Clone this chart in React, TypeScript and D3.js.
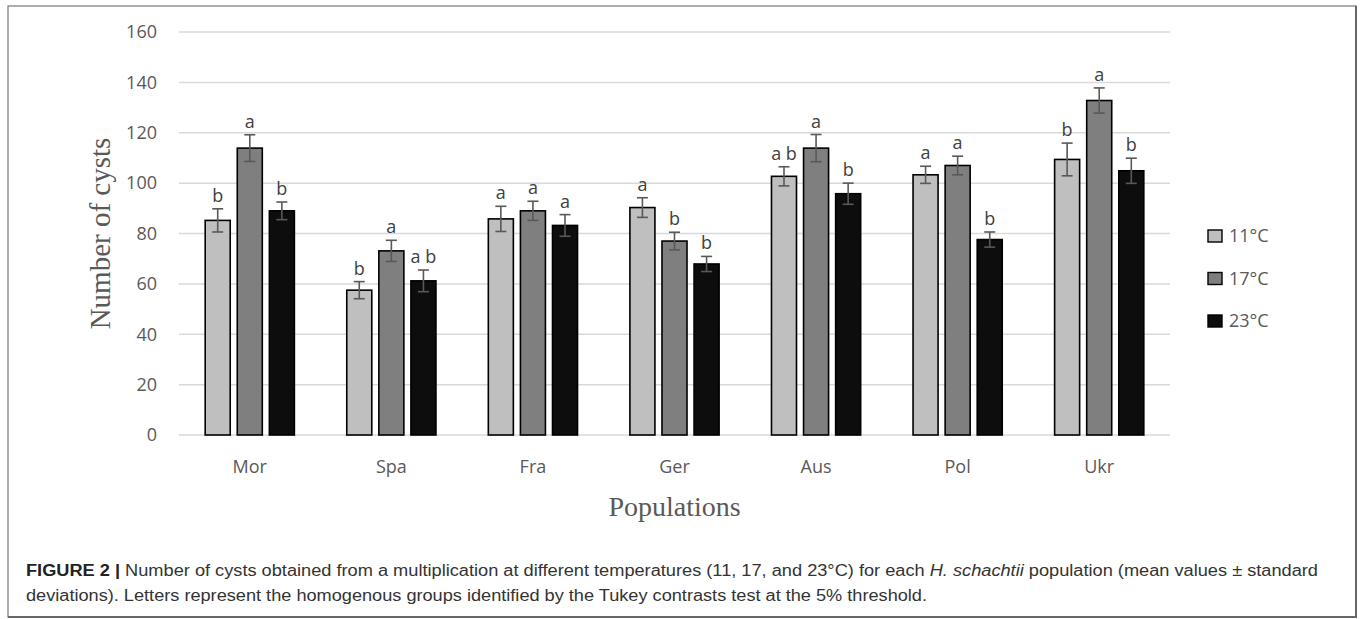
import React from 'react';
import * as d3 from 'd3';

const populations = ['Mor', 'Spa', 'Fra', 'Ger', 'Aus', 'Pol', 'Ukr'];
const seriesNames = ['11°C', '17°C', '23°C'];

const mean11 = [85.2, 57.5, 85.8, 90.3, 102.7, 103.3, 109.4];
const sd11 = [4.6, 3.4, 5.0, 3.9, 3.8, 3.4, 6.5];
const letters11 = ['b', 'b', 'a', 'a', 'a b', 'a', 'b'];

const mean17 = [113.9, 73.1, 89.0, 77.0, 113.9, 107.0, 132.8];
const sd17 = [5.3, 4.2, 3.8, 3.5, 5.4, 3.7, 5.0];
const letters17 = ['a', 'a', 'a', 'b', 'a', 'a', 'a'];

const mean23 = [89.0, 61.2, 83.2, 67.9, 95.8, 77.6, 104.9];
const sd23 = [3.5, 4.3, 4.3, 3.0, 4.2, 3.0, 5.0];
const letters23 = ['b', 'a b', 'a', 'b', 'b', 'b', 'b'];

const yTicks = [0, 20, 40, 60, 80, 100, 120, 140, 160];
const fills = ['#bfbfbf', '#7f7f7f', '#0d0d0d'];

const W = 1362;
const H = 619;
const plot = { left: 179, right: 1170, top: 32, bottom: 435 };
const sans = '"Open Sans", "Noto Sans", sans-serif';
const serif = '"Liberation Serif", "DejaVu Serif", serif';
const textGray = '#595959';

const App: React.FC = () => {
  const means = [mean11, mean17, mean23];
  const sds = [sd11, sd17, sd23];
  const letters = [letters11, letters17, letters23];

  const y = d3.scaleLinear().domain([0, 160]).range([plot.bottom, plot.top]);
  const x0 = d3.scaleBand<string>().domain(populations).range([plot.left, plot.right]).padding(0);
  const bw0 = x0.bandwidth();
  const x1 = d3.scaleBand<string>().domain(seriesNames)
    .range([bw0 * 0.185, bw0 * 0.815]).paddingInner(0.22);
  const bw = x1.bandwidth();

  return (
    <svg width={W} height={H} style={{ position: 'absolute', left: 0, top: 0, background: '#fff' }}>
      {/* frame */}
      <rect x={8} y={6} width={1348} height={611} fill="none" stroke="#777" strokeWidth={1.2} />
      <line x1={1356} x2={1356} y1={6} y2={618} stroke="#666" strokeWidth={2} />
      <line x1={8} x2={1357} y1={617} y2={617} stroke="#666" strokeWidth={2} />

      {/* grid */}
      {yTicks.map(t => (
        <g key={t}>
          <line x1={plot.left} x2={plot.right} y1={y(t)} y2={y(t)} stroke="#d9d9d9" strokeWidth={1.5} />
          <text x={157} y={y(t)} dy="0.35em" textAnchor="end" fontFamily={sans} fontSize={18} fill={textGray}>{t}</text>
        </g>
      ))}

      {/* bars */}
      {populations.map((p, i) => (
        <g key={p} transform={`translate(${x0(p)},0)`}>
          {seriesNames.map((s, k) => {
            const v = means[k][i];
            const e = sds[k][i];
            const bx = x1(s)!;
            const cx = bx + bw / 2;
            return (
              <g key={s}>
                <rect x={bx} y={y(v)} width={bw} height={y(0) - y(v)} fill={fills[k]} stroke="#000" strokeWidth={1.6} />
                <line x1={cx} x2={cx} y1={y(v + e)} y2={y(v - e)} stroke={textGray} strokeWidth={1.6} />
                <line x1={cx - 5.5} x2={cx + 5.5} y1={y(v + e)} y2={y(v + e)} stroke={textGray} strokeWidth={1.6} />
                <line x1={cx - 5.5} x2={cx + 5.5} y1={y(v - e)} y2={y(v - e)} stroke={textGray} strokeWidth={1.6} />
                <text x={cx} y={y(v + e) - 7} textAnchor="middle" fontFamily={sans} fontSize={18} fill="#404040">{letters[k][i]}</text>
              </g>
            );
          })}
          <text x={bw0 / 2} y={473} textAnchor="middle" fontFamily={sans} fontSize={18} fill={textGray}>{p}</text>
        </g>
      ))}

      {/* axis titles */}
      <text x={(plot.left + plot.right) / 2} y={516} textAnchor="middle" fontFamily={serif} fontSize={28} fill={textGray}>Populations</text>
      <text transform={`translate(110,${(plot.top + plot.bottom) / 2}) rotate(-90)`} textAnchor="middle" fontFamily={serif} fontSize={29} fill={textGray}>Number of cysts</text>

      {/* legend */}
      {seriesNames.map((s, k) => (
        <g key={s} transform={`translate(1208,${236 + k * 42.5})`}>
          <rect x={0} y={-6} width={14} height={12} fill={fills[k]} stroke="#000" strokeWidth={1.4} />
          <text x={21} y={0} dy="0.35em" fontFamily={sans} fontSize={18} fill={textGray}>{s}</text>
        </g>
      ))}

      {/* caption */}
      <text x={26} y={576} fontFamily='"Liberation Sans", Arial, sans-serif' fontSize={16} fill="#333" textLength={1292} lengthAdjust="spacingAndGlyphs">
        <tspan fontWeight="bold" fill="#222">FIGURE 2 | </tspan>
        <tspan>Number of cysts obtained from a multiplication at different temperatures (11, 17, and 23°C) for each </tspan>
        <tspan fontStyle="italic">H. schachtii</tspan>
        <tspan> population (mean values ± standard</tspan>
      </text>
      <text x={26} y={601} fontFamily='"Liberation Sans", Arial, sans-serif' fontSize={16} fill="#333" textLength={901} lengthAdjust="spacingAndGlyphs">
        deviations). Letters represent the homogenous groups identified by the Tukey contrasts test at the 5% threshold.
      </text>
    </svg>
  );
};

export default App;
